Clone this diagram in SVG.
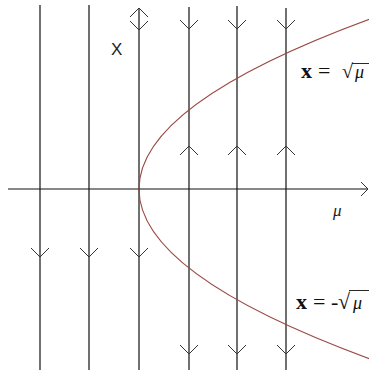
<svg xmlns="http://www.w3.org/2000/svg" width="369" height="374" viewBox="0 0 369 374">
<style>
.ln{stroke:#111;stroke-width:1.2;fill:none}
.ch{stroke:#333;stroke-width:1;fill:none}
.cv{stroke:#9a4a44;stroke-width:1.1;fill:none}
.lbl{font-family:"Liberation Serif",serif;font-size:22px;fill:#111}
.ov{stroke:#111;stroke-width:0.9}
</style>
<rect width="369" height="374" fill="#fff"/>
<g id="connectors">
<line class="ln" x1="8" y1="189" x2="368" y2="189"/>
<polyline class="ch" points="361,182 368,189 361,196"/>
<line class="ln" x1="40" y1="5" x2="40" y2="370"/>
<line class="ln" x1="89" y1="5" x2="89" y2="370"/>
<line class="ln" x1="139" y1="8" x2="139" y2="370"/>
<line class="ln" x1="189" y1="7" x2="189" y2="370"/>
<line class="ln" x1="237" y1="6" x2="237" y2="370"/>
<line class="ln" x1="286" y1="8" x2="286" y2="370"/>
<polyline class="ch" points="130,17 139,8 148,17"/>
<polyline class="ch" points="130,21 139,30 148,21"/>
<polyline class="ch" points="180,20 189,29 198,20"/>
<polyline class="ch" points="228,20 237,29 246,20"/>
<polyline class="ch" points="277,20 286,29 295,20"/>
<polyline class="ch" points="180,155 189,146 198,155"/>
<polyline class="ch" points="228,155 237,146 246,155"/>
<polyline class="ch" points="277,155 286,146 295,155"/>
<polyline class="ch" points="31,248 40,257 49,248"/>
<polyline class="ch" points="80,248 89,257 98,248"/>
<polyline class="ch" points="130,248 139,257 148,248"/>
<polyline class="ch" points="180,345 189,354 198,345"/>
<polyline class="ch" points="228,345 237,354 246,345"/>
<polyline class="ch" points="277,345 286,354 295,345"/>
<path class="cv" d="M370.2,19 Q-92.2,189 370.2,359"/>
</g>
<g id="labels">
<text x="111" y="55" font-family="Liberation Sans,Arial,sans-serif" font-size="17" fill="#222">X</text>
<text x="301" y="78" class="lbl"><tspan font-weight="bold">x</tspan><tspan x="318">=</tspan><tspan x="342" style="font-size:20px">√</tspan><tspan x="355" style="font-size:18px;font-style:italic">μ</tspan></text>
<line class="ov" x1="352" y1="63.5" x2="369" y2="63.5"/>
<text x="296" y="309" class="lbl"><tspan font-weight="bold">x</tspan><tspan x="313">=</tspan><tspan x="331">-</tspan><tspan x="338">√</tspan><tspan x="353" style="font-size:18px;font-style:italic">μ</tspan></text>
<line class="ov" x1="349" y1="290.5" x2="369" y2="290.5"/>
<text x="333" y="216" font-family="Liberation Serif,serif" font-style="italic" font-size="17" fill="#222">μ</text>
</g>
</svg>
